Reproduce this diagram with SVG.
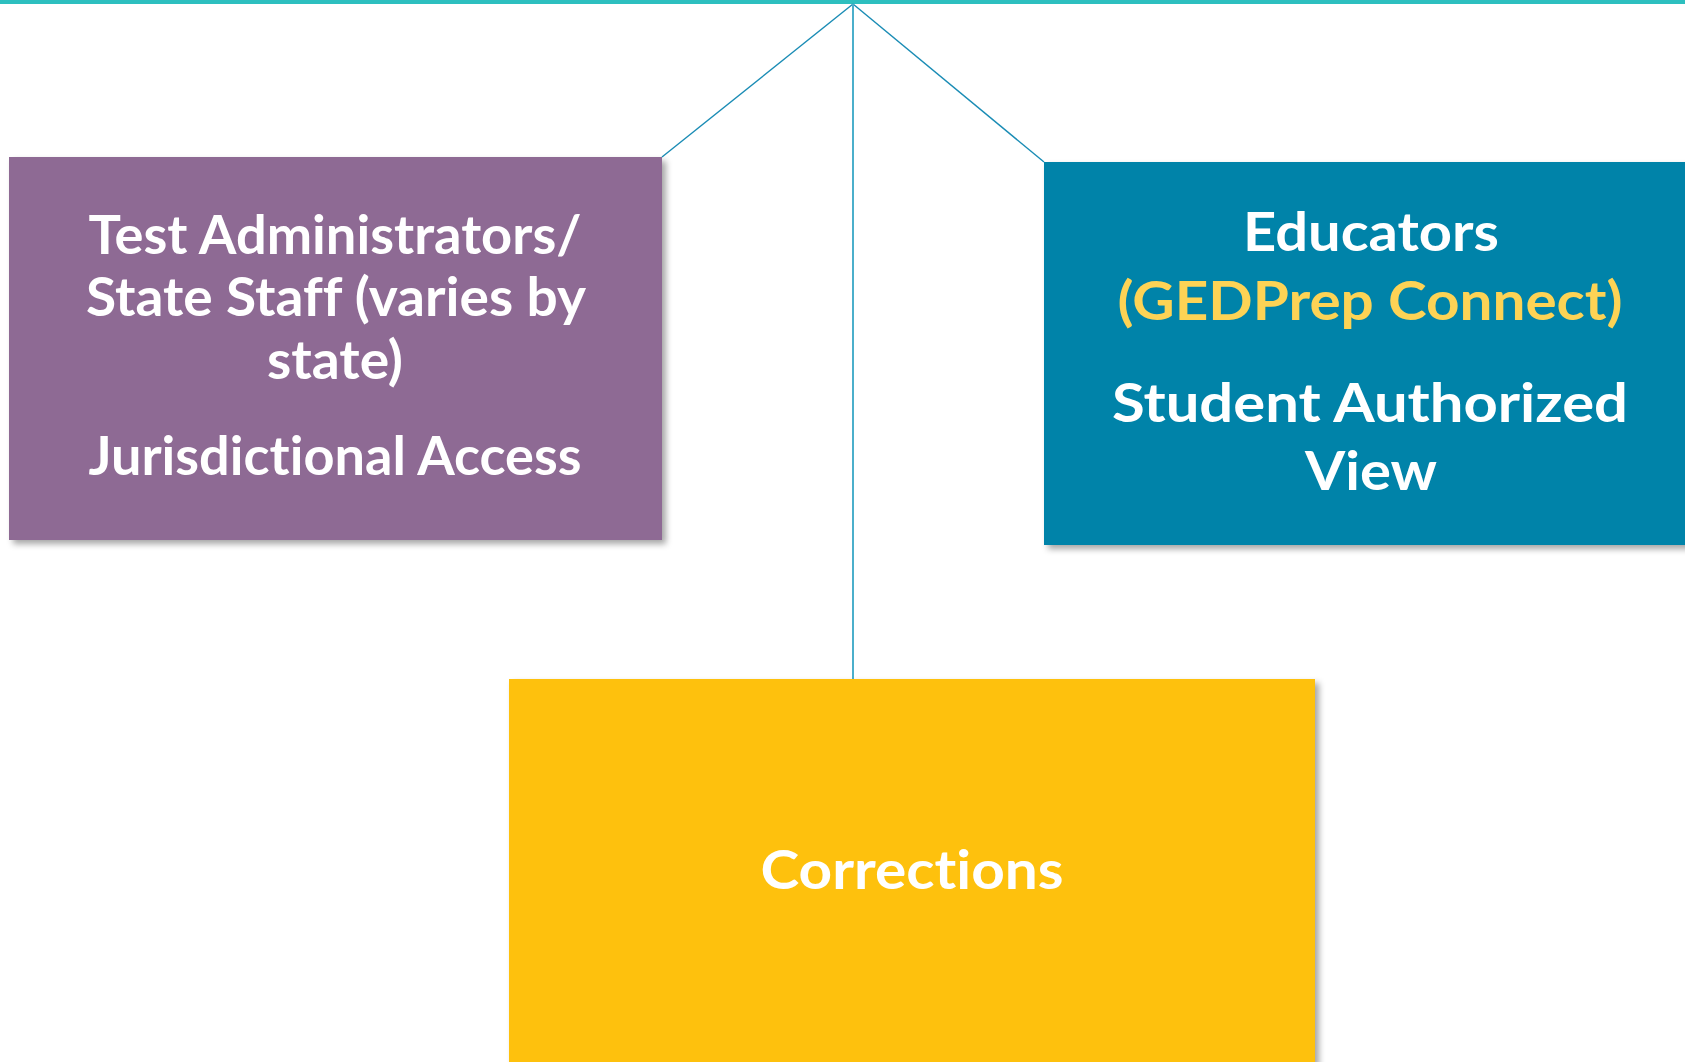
<svg xmlns="http://www.w3.org/2000/svg" width="1685" height="1062" viewBox="0 0 1685 1062">
  <style>
    .lbl { font-family: Lato, "Open Sans", "Liberation Sans", sans-serif; font-weight: 700; font-size: 54px; fill: #FFFFFF; text-anchor: middle; font-variant-ligatures: none; }
    .hl { fill: #FDD355; }
    .conn { fill: none; stroke: #1A8CB5; stroke-width: 1.4; }
  </style>
  <defs>
    <filter id="sh" x="-5%" y="-5%" width="115%" height="115%">
      <feDropShadow dx="4" dy="4" stdDeviation="3" flood-color="#000000" flood-opacity="0.35"/>
    </filter>
  </defs>
  <rect width="1685" height="1062" fill="#FFFFFF"/>
  <rect x="0" y="0" width="1685" height="4" fill="#2DBFBF"/>

  <g id="connectors">
    <line class="conn" x1="853" y1="4" x2="662" y2="157"/>
    <line class="conn" x1="853" y1="4" x2="1044" y2="162"/>
    <line x1="853" y1="4" x2="853" y2="679" stroke="#4BAFCB" stroke-width="2"/>
  </g>

  <g id="node-test-admins">
    <rect x="9" y="157" width="653" height="383" fill="#8E6A94" filter="url(#sh)"/>
    <text class="lbl" x="335" y="254" textLength="493" lengthAdjust="spacingAndGlyphs">Test Administrators/</text>
    <text class="lbl" x="336" y="316" textLength="500" lengthAdjust="spacingAndGlyphs">State Staff (varies by</text>
    <text class="lbl" x="335" y="379" textLength="136" lengthAdjust="spacingAndGlyphs">state)</text>
    <text class="lbl" x="335" y="475" textLength="493" lengthAdjust="spacingAndGlyphs">Jurisdictional Access</text>
  </g>

  <g id="node-educators">
    <rect x="1044" y="162" width="660" height="383" fill="#0083A9" filter="url(#sh)"/>
    <text class="lbl" x="1371" y="251" textLength="256" lengthAdjust="spacingAndGlyphs">Educators</text>
    <text class="lbl hl" x="1370" y="320" textLength="505" lengthAdjust="spacingAndGlyphs">(GEDPrep Connect)</text>
    <text class="lbl" x="1370" y="422" textLength="516" lengthAdjust="spacingAndGlyphs">Student Authorized</text>
    <text class="lbl" x="1371" y="490" textLength="132" lengthAdjust="spacingAndGlyphs">View</text>
  </g>

  <g id="node-corrections">
    <rect x="509" y="679" width="806" height="400" fill="#FEC10B" filter="url(#sh)"/>
    <text class="lbl" x="912" y="889" textLength="303" lengthAdjust="spacingAndGlyphs">Corrections</text>
  </g>
</svg>
